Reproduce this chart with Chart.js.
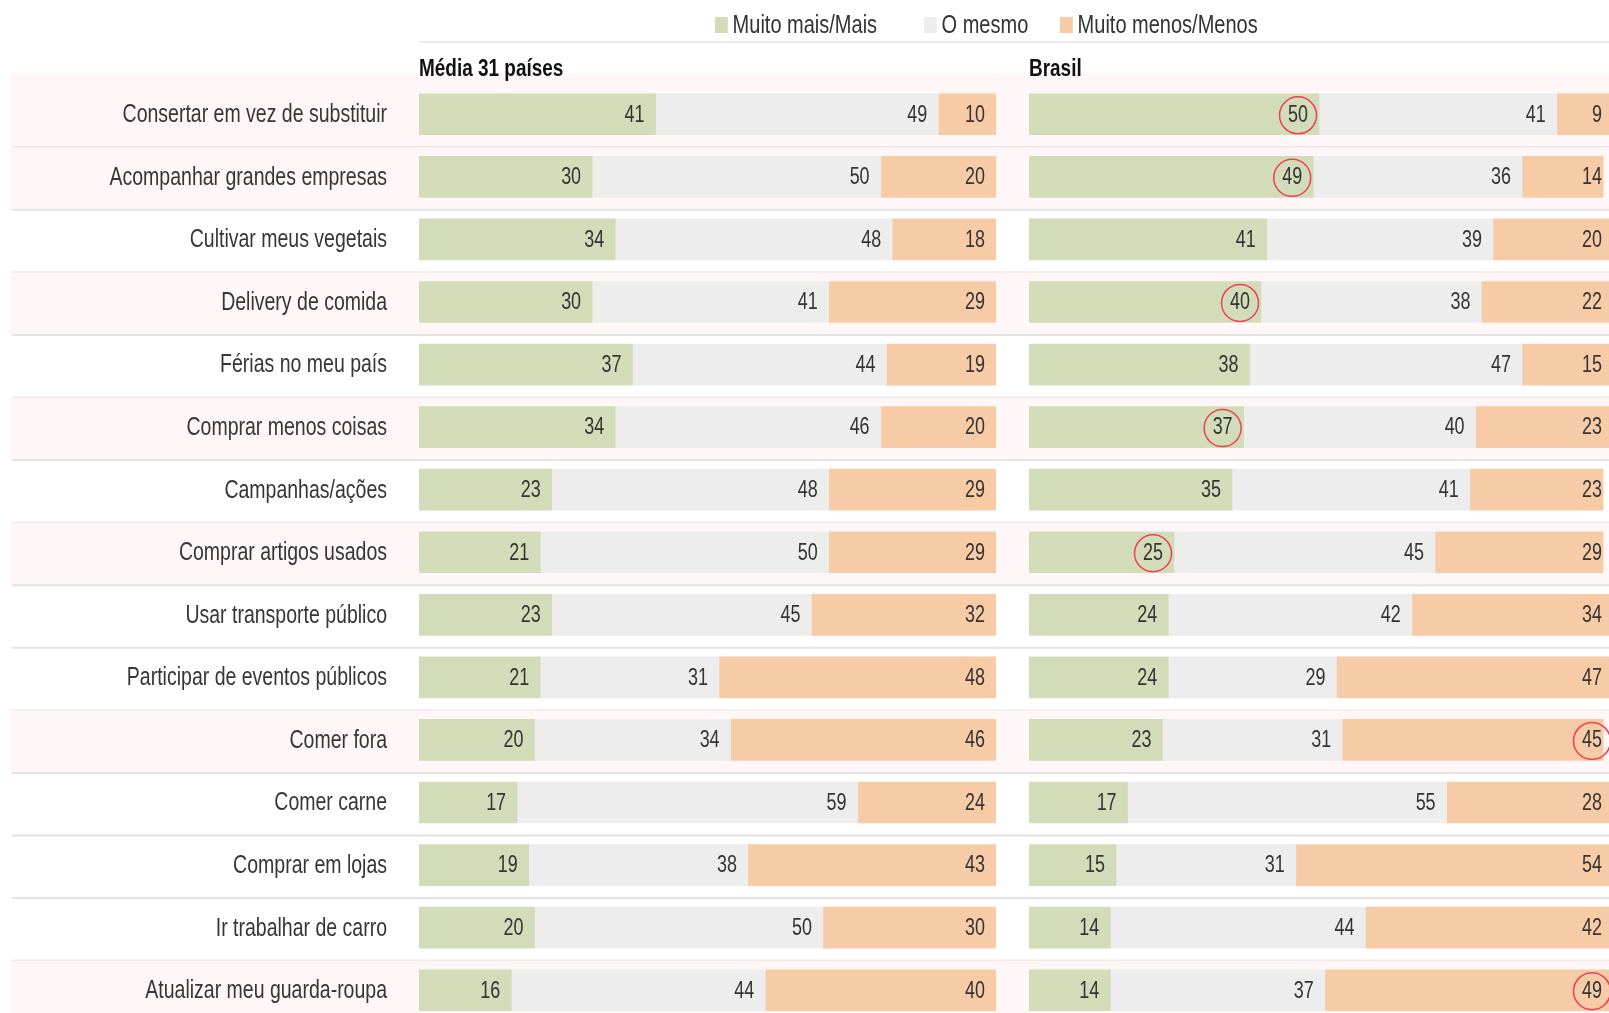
<!DOCTYPE html>
<html lang="pt-BR">
<head>
<meta charset="utf-8">
<script src="https://cdn.jsdelivr.net/npm/chart.js@4.4.1/dist/chart.umd.min.js"></script>
<style>
  html, body { margin: 0; padding: 0; background: #fff; overflow: hidden; }
  body {
    width: 1609px; height: 1013px; position: relative;
    font-family: "Liberation Sans", Arial, sans-serif;
    color: #333;
  }
  #c1 { position: absolute; left: 0; top: 0; z-index: 1; }
  #c2 { position: absolute; left: 1029px; top: 0; z-index: 1; }
  .legend-item {
    position: absolute; top: 10px; font-size: 25px; line-height: 28px; white-space: nowrap;
    transform: scaleX(0.8); transform-origin: left center; z-index: 2;
  }
  .legend-item span { display: inline-block; width: 16px; height: 16px; margin-right: 6px; vertical-align: 0px; }
  .rule { position: absolute; left: 419px; right: 0; top: 41px; height: 2px; background: #ebebeb; }
  .panel-title {
    position: absolute; top: 54px; font-size: 24px; line-height: 28px; font-weight: bold; color: #111;
    transform: scaleX(0.79); transform-origin: left center; z-index: 2; white-space: nowrap;
  }
</style>
</head>
<body>
<div id="legend"></div>
<div class="rule"></div>
<div class="panel-title" style="left:419px">Média 31 países</div>
<div class="panel-title" style="left:1029px">Brasil</div>
<canvas id="c1" width="1609" height="1040"></canvas>
<canvas id="c2" width="580" height="1040"></canvas>
<script>
// categorias
const rowLabels = [
	"Consertar em vez de substituir",
	"Acompanhar grandes empresas",
	"Cultivar meus vegetais",
	"Delivery de comida",
	"Férias no meu país",
	"Comprar menos coisas",
	"Campanhas/ações",
	"Comprar artigos usados",
	"Usar transporte público",
	"Participar de eventos públicos",
	"Comer fora",
	"Comer carne",
	"Comprar em lojas",
	"Ir trabalhar de carro",
	"Atualizar meu guarda-roupa",
];

const seriesNames = ["Muito mais/Mais", "O mesmo", "Muito menos/Menos"];
const seriesColors = ["#d3dcb8", "#ededed", "#f8cba7"];

// Média 31 países (%)
const mediaMais = [41, 30, 34, 30, 37, 34, 23, 21, 23, 21, 20, 17, 19, 20, 16];
const mediaMesmo = [49, 50, 48, 41, 44, 46, 48, 50, 45, 31, 34, 59, 38, 50, 44];
const mediaMenos = [10, 20, 18, 29, 19, 20, 29, 29, 32, 48, 46, 24, 43, 30, 40];

// Brasil (%)
const brasilMais = [50, 49, 41, 40, 38, 37, 35, 25, 24, 24, 23, 17, 15, 14, 14];
const brasilMesmo = [41, 36, 39, 38, 47, 40, 41, 45, 42, 29, 31, 55, 31, 44, 37];
const brasilMenos = [9, 14, 20, 22, 15, 23, 23, 29, 34, 47, 45, 28, 54, 42, 49];

// valores circulados no painel Brasil (índice da série ou null)
const brasilDestaque = [0, 0, null, 0, null, 0, null, 0, null, null, 2, null, null, null, 2];

const FAMILY = '"Liberation Sans", Arial, sans-serif';
const NARROW = 0.78; // horizontal squeeze, the original uses a condensed face

// legend
const legendLefts = [715, 924, 1060];
const legendEl = document.getElementById("legend");
seriesNames.forEach((name, i) => {
	const item = document.createElement("div");
	item.className = "legend-item";
	item.style.left = legendLefts[i] + "px";
	const sw = document.createElement("span");
	sw.style.background = seriesColors[i];
	item.appendChild(sw);
	item.appendChild(document.createTextNode(name));
	legendEl.appendChild(item);
});

// condensed text on canvas
const narrowText = (ctx, txt, x, y, align) => {
	ctx.save();
	ctx.translate(x, y);
	ctx.scale(NARROW, 1);
	ctx.textAlign = align;
	ctx.fillText(txt, 0, 0);
	ctx.restore();
	return ctx.measureText(txt).width * NARROW;
};

// row backgrounds, separators and row labels (drawn across the whole page on chart 1)
const rowBands = {
	id: "rowBands",
	beforeDraw(chart) {
		const { ctx } = chart;
		const y = chart.scales.y;
		ctx.save();
		rowLabels.forEach((l, i) => {
			const c = y.getPixelForValue(i);
			const top = i === 0 ? 73 : c - 29.5;
			if (brasilDestaque[i] !== null) {
				ctx.fillStyle = "#fff7f7";
				ctx.fillRect(10, top, chart.width - 10, c + 33 - top);
			}
			ctx.fillStyle = "#e6e3e3";
			ctx.fillRect(12, c + 32, chart.width - 12, 2);
		});
		ctx.font = "25px " + FAMILY;
		ctx.fillStyle = "#363636";
		ctx.textBaseline = "middle";
		rowLabels.forEach((l, i) => {
			narrowText(ctx, l, chart.chartArea.left - 32, y.getPixelForValue(i) + 1, "right");
		});
		ctx.restore();
	},
};

// value labels at the end of each segment
const endLabels = {
	id: "endLabels",
	afterDatasetsDraw(chart, args, opts) {
		const { ctx, chartArea } = chart;
		ctx.save();
		ctx.font = "23px " + FAMILY;
		ctx.fillStyle = "#333";
		ctx.textBaseline = "middle";
		const n = chart.data.datasets.length;
		chart.data.datasets.forEach((ds, di) => {
			const meta = chart.getDatasetMeta(di);
			meta.data.forEach((bar, j) => {
				const txt = String(ds.data[j]);
				let x = bar.x - 11;
				if (opts.clampLast && di === n - 1) x = chartArea.right - 7;
				const w = narrowText(ctx, txt, x, bar.y + 1, "right");
				if (opts.highlight && opts.highlight[j] === di) {
					ctx.beginPath();
					ctx.strokeStyle = "#ee3f55";
					ctx.lineWidth = 1.5;
					ctx.arc(x - w / 2, bar.y + 1, 18.5, 0, Math.PI * 2);
					ctx.stroke();
				}
			});
		});
		ctx.restore();
	},
};

const makeDatasets = (series) =>
	series.map((data, i) => ({
		label: seriesNames[i],
		data: data,
		backgroundColor: seriesColors[i],
		borderWidth: 0,
		barThickness: 41,
	}));

const baseOptions = (padding, labelOpts) => ({
	indexAxis: "y",
	responsive: false,
	animation: false,
	events: [],
	layout: { padding: padding },
	scales: {
		x: { stacked: true, min: 0, max: 100, display: false },
		y: { stacked: true, display: false },
	},
	plugins: {
		legend: { display: false },
		tooltip: { enabled: false },
		endLabels: labelOpts,
	},
});

new Chart(document.getElementById("c1").getContext("2d"), {
	type: "bar",
	data: { labels: rowLabels, datasets: makeDatasets([mediaMais, mediaMesmo, mediaMenos]) },
	options: baseOptions({ top: 83, bottom: 18.5, left: 419, right: 613 }, {}),
	plugins: [rowBands, endLabels],
});

new Chart(document.getElementById("c2").getContext("2d"), {
	type: "bar",
	data: { labels: rowLabels, datasets: makeDatasets([brasilMais, brasilMesmo, brasilMenos]) },
	options: baseOptions({ top: 83, bottom: 18.5, left: 0, right: 0 }, {
		highlight: brasilDestaque,
		clampLast: true,
	}),
	plugins: [endLabels],
});
</script>
</body>
</html>
